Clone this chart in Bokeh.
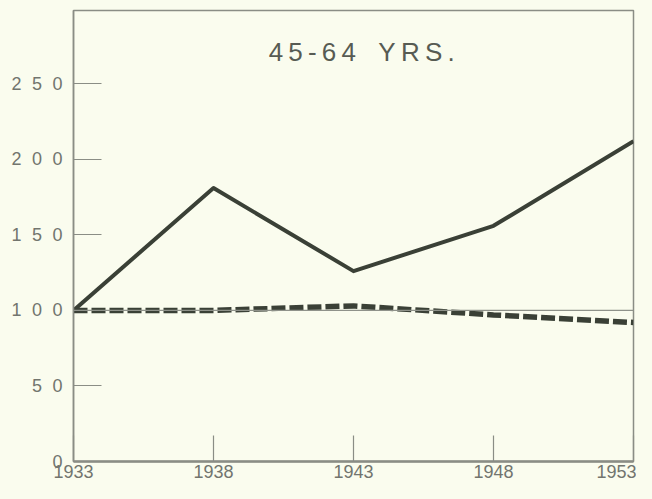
from bokeh.plotting import figure
from bokeh.models import Span, Label, Range1d, FixedTicker
from bokeh.embed import file_html
from bokeh.resources import INLINE

years = [1933, 1938, 1943, 1948, 1953]
solid_vals = [100, 181, 126, 156, 212]
dashed_vals = [100, 100, 103, 97, 92]
y_ticks = [0, 50, 100, 150, 200, 250]
SP = "\u2002\u200a"
y_tick_labels = ["0", "5" + SP + "0", "1" + SP + "0" + SP + "0",
                 "1" + SP + "5" + SP + "0", "2" + SP + "0" + SP + "0", "2" + SP + "5" + SP + "0"]
x_tick_labels = ["1933", "1938", "1943", "1948", "1953"]
title_text = "45-64 YRS."

BG = "#fafcee"
INK = "#3a4036"
AXIS = "#8a8d85"
LABEL = "#72756e"

p = figure(width=636, height=483, output_backend="svg", toolbar_location=None,
           x_range=Range1d(1933, 1953), y_range=Range1d(0, 298.5),
           min_border_left=73, min_border_right=3, min_border_top=10, min_border_bottom=22)
p.background_fill_color = BG
p.border_fill_color = BG
p.outline_line_color = AXIS
p.outline_line_width = 1.5
p.grid.visible = False

p.xaxis.ticker = FixedTicker(ticks=years)
p.xaxis.major_label_overrides = {y: l for y, l in zip(years, x_tick_labels)}
p.yaxis.ticker = FixedTicker(ticks=y_ticks)
p.yaxis.major_label_overrides = {t: l for t, l in zip(y_ticks, y_tick_labels)}

for ax in (p.xaxis, p.yaxis):
    ax.axis_line_color = AXIS
    ax.major_tick_line_color = AXIS
    ax.major_tick_line_width = 1.2
    ax.major_tick_out = 0
    ax.minor_tick_line_color = None
    ax.major_label_text_color = LABEL
    ax.major_label_text_font = "Liberation Sans"
    ax.major_label_text_font_size = "18px"
p.xaxis.axis_line_width = 2.5
p.yaxis.axis_line_width = 1.5
p.yaxis.major_tick_in = 28
p.xaxis.major_tick_in = 26
p.yaxis.major_label_standoff = 11
p.xaxis.major_label_standoff = 3

p.add_layout(Span(location=100, dimension="width", line_color="#8f928a", line_width=1.2))

p.line(years, dashed_vals, line_color=INK, line_width=5.5, line_dash="14 4")
p.line(years, solid_vals, line_color=INK, line_width=4, line_join="round")

spaced_title = "\u2009".join(list(title_text)).replace("\u2009 \u2009", "\u2009\u2009\u2009 ")
p.add_layout(Label(x=1943.3, y=271, text=spaced_title,
                   text_align="center", text_baseline="middle", text_color="#575b53",
                   text_font="Liberation Sans", text_font_size="26px"))

html = file_html(p, INLINE)
html = html.replace("<body>", '<body style="background:%s;">' % BG)
open("out.html", "w").write(html)
